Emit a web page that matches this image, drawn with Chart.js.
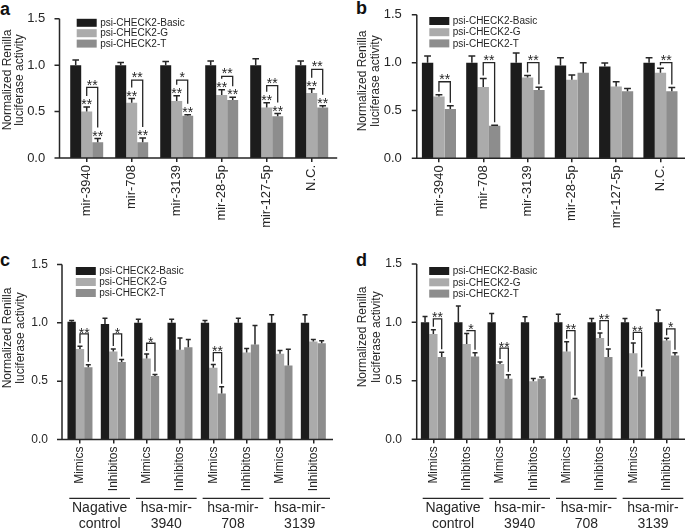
<!DOCTYPE html>
<html>
<head>
<meta charset="utf-8">
<script src="https://cdn.jsdelivr.net/npm/chart.js@4.4.1/dist/chart.umd.min.js"></script>
<style>
  body { margin: 0; background: #fff; width: 685px; height: 530px; position: relative; overflow: hidden;
         font-family: "Liberation Sans", Arial, sans-serif; }
  .panel { position: absolute; }
  .tag { position: absolute; font-weight: bold; font-size: 18px; line-height: 18px; color: #111; }
</style>
</head>
<body>
<div class="tag" style="left:0px;top:0px">a</div>
<div class="tag" style="left:356px;top:-1px">b</div>
<div class="tag" style="left:0px;top:251px">c</div>
<div class="tag" style="left:356px;top:251px">d</div>

<div class="panel" style="left:0px;top:0px;width:340px;height:250px"><canvas id="chartA"></canvas></div>
<div class="panel" style="left:340px;top:0px;width:345px;height:250px"><canvas id="chartB"></canvas></div>
<div class="panel" style="left:0px;top:250px;width:340px;height:280px"><canvas id="chartC"></canvas></div>
<div class="panel" style="left:340px;top:250px;width:345px;height:280px"><canvas id="chartD"></canvas></div>

<script>
// ---- data ----
const seriesNames = ["psi-CHECK2-Basic", "psi-CHECK2-G", "psi-CHECK2-T"];
const seriesColors = ["#1c1c1c", "#ababab", "#8d8d8d"];

// panel a
const aLabels = ["mir-3940", "mir-708", "mir-3139", "mir-28-5p", "mir-127-5p", "N.C."];
const aBasic = [1.0, 1.0, 1.0, 1.0, 1.0, 1.0];
const aBasicErr = [0.055, 0.03, 0.04, 0.045, 0.07, 0.045];
const aG = [0.50, 0.595, 0.615, 0.68, 0.545, 0.70];
const aGErr = [0.05, 0.045, 0.055, 0.055, 0.05, 0.045];
const aT = [0.17, 0.17, 0.455, 0.625, 0.45, 0.545];
const aTErr = [0.04, 0.045, 0.012, 0.03, 0.03, 0.018];
const aGStars = ["**", "**", "**", "**", "**", "**"];
const aTStars = ["**", "**", "**", "**", "**", "**"];
const aBrackets = [[0.76, "**"], [0.84, "**"], [0.84, "*"], [0.88, "**"], [0.78, "**"], [0.955, "**"]];

// panel b
const bLabels = ["mir-3940", "mir-708", "mir-3139", "mir-28-5p", "mir-127-5p", "N.C."];
const bBasic = [1.0, 1.0, 1.0, 0.97, 0.96, 1.0];
const bBasicErr = [0.07, 0.07, 0.1, 0.08, 0.035, 0.05];
const bG = [0.645, 0.745, 0.845, 0.82, 0.75, 0.895];
const bGErr = [0.02, 0.09, 0.02, 0.05, 0.05, 0.045];
const bT = [0.515, 0.34, 0.715, 0.895, 0.70, 0.70];
const bTErr = [0.035, 0.006, 0.027, 0.105, 0.03, 0.04];
const bBrackets = [[0.80, "**"], [1.0, "**"], [1.0, "**"], null, null, [1.0, "**"]];

// panel c
const cLabels = ["Mimics", "Inhibitos", "Mimics", "Inhibitos", "Mimics", "Inhibitos", "Mimics", "Inhibitos"];
const cGroups = [["Nagative", "control"], ["hsa-mir-", "3940"], ["hsa-mir-", "708"], ["hsa-mir-", "3139"]];
const cBasic = [1.01, 0.99, 1.0, 1.0, 1.0, 1.0, 1.0, 1.0];
const cBasicErr = [0.01, 0.05, 0.03, 0.03, 0.02, 0.04, 0.07, 0.07];
const cG = [0.775, 0.755, 0.695, 0.77, 0.615, 0.745, 0.735, 0.84];
const cGErr = [0.025, 0.02, 0.038, 0.1, 0.027, 0.036, 0.028, 0.018];
const cT = [0.62, 0.665, 0.545, 0.79, 0.395, 0.815, 0.635, 0.825];
const cTErr = [0.02, 0.02, 0.012, 0.067, 0.057, 0.163, 0.138, 0.022];
const cBrackets = [[0.905, "**"], [0.905, "*"], [0.825, "*"], null, [0.745, "**"], null, null, null];

// panel d
const dLabels = ["Mimics", "Inhibitos", "Mimics", "Inhibitos", "Mimics", "Inhibitos", "Mimics", "Inhibitos"];
const dGroups = [["Nagative", "control"], ["hsa-mir-", "3940"], ["hsa-mir-", "708"], ["hsa-mir-", "3139"]];
const dBasic = [1.0, 1.0, 1.0, 1.0, 1.0, 1.0, 1.0, 1.0];
const dBasicErr = [0.05, 0.14, 0.075, 0.048, 0.07, 0.032, 0.032, 0.105];
const dG = [0.90, 0.815, 0.645, 0.497, 0.75, 0.866, 0.735, 0.845];
const dGErr = [0.037, 0.09, 0.015, 0.022, 0.085, 0.043, 0.088, 0.02];
const dT = [0.703, 0.708, 0.518, 0.518, 0.343, 0.703, 0.538, 0.717];
const dTErr = [0.042, 0.032, 0.035, 0.014, 0.006, 0.07, 0.051, 0.023];
const dBrackets = [[1.03, "**"], [0.93, "*"], [0.78, "**"], null, [0.93, "**"], [1.015, "**"], [0.915, "**"], [0.945, "*"]];

const yTitle = ["Normalized Renilla", "luciferase activity"];
const FONT = '"Liberation Sans", Arial, sans-serif';
const INK = "#262626";

Chart.defaults.font.family = FONT;
Chart.defaults.color = INK;

function drawStars(ctx, txt, x, centerY) {
  ctx.font = "14px " + FONT;
  ctx.textAlign = "center";
  ctx.textBaseline = "alphabetic";
  ctx.fillText(txt, x, centerY + 0.58 * 14);
}

// error bars, brackets, axes, legend, titles
const decor = {
  id: "decor",
  afterDatasetsDraw(chart, args, o) {
    const ctx = chart.ctx;
    const { left, right } = chart.chartArea;
    const xs = chart.scales.x, ys = chart.scales.y;
    const sets = chart.data.datasets;
    ctx.save();
    ctx.strokeStyle = INK;
    ctx.fillStyle = INK;
    ctx.lineWidth = 1.5;

    const errTop = (i, j) => ys.getPixelForValue(sets[i].data[j] + sets[i].errors[j]);

    sets.forEach((ds, i) => {
      chart.getDatasetMeta(i).data.forEach((bar, j) => {
        const yt = errTop(i, j);
        const cap = bar.width * 0.3;
        ctx.beginPath();
        ctx.moveTo(bar.x, bar.y);
        ctx.lineTo(bar.x, yt);
        ctx.moveTo(bar.x - cap, yt);
        ctx.lineTo(bar.x + cap, yt);
        ctx.stroke();
        if (ds.stars && ds.stars[j]) drawStars(ctx, ds.stars[j], bar.x, yt - o.starLift);
      });
    });

    // G vs T brackets
    const gm = chart.getDatasetMeta(1).data, tm = chart.getDatasetMeta(2).data;
    ctx.lineWidth = 1.3;
    o.brackets.forEach((b, j) => {
      if (!b) return;
      const yb = ys.getPixelForValue(b[0]);
      const yl = errTop(1, j) - (sets[1].stars && sets[1].stars[j] ? 11 : 3);
      const yr = errTop(2, j) - (sets[2].stars && sets[2].stars[j] ? 11 : 3);
      ctx.beginPath();
      ctx.moveTo(gm[j].x, yl);
      ctx.lineTo(gm[j].x, yb);
      ctx.lineTo(tm[j].x, yb);
      ctx.lineTo(tm[j].x, yr);
      ctx.stroke();
      drawStars(ctx, b[1], (gm[j].x + tm[j].x) / 2, yb - o.starLift);
    });

    // axes
    const x0 = left - o.gap;
    const y0 = ys.getPixelForValue(0);
    ctx.lineWidth = 1.5;
    ctx.beginPath();
    ctx.moveTo(x0, ys.getPixelForValue(ys.max));
    ctx.lineTo(x0, y0);
    ctx.lineTo(right + o.ext, y0);
    ys.ticks.forEach(tk => {
      const py = ys.getPixelForValue(tk.value);
      ctx.moveTo(x0 - 5, py);
      ctx.lineTo(x0, py);
    });
    ctx.stroke();

    // legend
    ctx.font = "10px " + FONT;
    ctx.textAlign = "left";
    ctx.textBaseline = "middle";
    sets.forEach((ds, i) => {
      const ly = o.legendY + i * o.legendStep;
      ctx.fillStyle = ds.backgroundColor;
      ctx.fillRect(left + 12.5, ly - 4, 20, 8);
      ctx.fillStyle = INK;
      ctx.fillText(ds.label, left + 36, ly + 0.5);
    });

    // y title
    ctx.font = "12px " + FONT;
    ctx.textAlign = "center";
    yTitle.forEach((line, k) => {
      ctx.save();
      ctx.translate(o.titleX[k], o.titleY);
      ctx.rotate(-Math.PI / 2);
      ctx.fillText(line, 0, 0);
      ctx.restore();
    });

    // group labels under the categories
    if (o.groups) {
      const half = (xs.getPixelForValue(1) - xs.getPixelForValue(0)) / 2;
      ctx.font = "14px " + FONT;
      ctx.lineWidth = 1.2;
      o.groups.forEach((g, k) => {
        const xa = xs.getPixelForValue(2 * k) - half + 3 + o.groupShift;
        const xb = xs.getPixelForValue(2 * k + 1) + half - 3 + o.groupShift;
        ctx.beginPath();
        ctx.moveTo(xa, o.groupLineY);
        ctx.lineTo(xb, o.groupLineY);
        ctx.stroke();
        g.forEach((line, n) => ctx.fillText(line, (xa + xb) / 2, o.groupTextY + n * 15.5));
      });
    }
    ctx.restore();
  }
};

function makePanel(id, labels, vals, errs, stars, brackets, lay) {
  const datasets = seriesNames.map((name, i) => ({
    label: name,
    data: vals[i],
    errors: errs[i],
    stars: stars ? stars[i] : null,
    backgroundColor: seriesColors[i],
    borderWidth: 0,
    categoryPercentage: lay.catPct,
    barPercentage: 1.0
  }));
  new Chart(document.getElementById(id), {
    type: "bar",
    data: { labels: labels, datasets: datasets },
    plugins: [decor],
    options: {
      responsive: true,
      maintainAspectRatio: false,
      animation: false,
      layout: { padding: { left: 0, top: lay.top, right: lay.right, bottom: 0 } },
      plugins: {
        legend: { display: false },
        tooltip: { enabled: false },
        decor: {
          gap: lay.gap, ext: lay.ext, starLift: lay.starLift, brackets: brackets,
          legendY: lay.legendY, legendStep: lay.legendStep,
          titleX: lay.titleX, titleY: lay.titleY,
          groups: lay.groups || null, groupShift: 3, groupLineY: 248.3, groupTextY: 258.5
        }
      },
      scales: {
        x: {
          offset: true,
          afterFit: s => { s.height = lay.xHeight; },
          border: { display: false },
          grid: { display: true, drawOnChartArea: false, drawTicks: true, tickLength: 4,
                  offset: false, color: INK, lineWidth: 1.5 },
          ticks: { autoSkip: false, minRotation: 90, maxRotation: 90, padding: 3,
                   font: { size: lay.labelFont } }
        },
        y: {
          min: 0,
          max: 1.5,
          afterFit: s => { s.width = lay.left; },
          border: { display: false },
          grid: { display: false },
          ticks: { stepSize: 0.5, padding: lay.tickPad, font: { size: lay.tickFont },
                   callback: v => v.toFixed(1) }
        }
      }
    }
  });
}

makePanel("chartA", aLabels, [aBasic, aG, aT], [aBasicErr, aGErr, aTErr], [null, aGStars, aTStars], aBrackets,
  { left: 64.2, top: 18.5, right: 5.8, xHeight: 92, gap: 4.7, ext: 3, tickPad: 11, catPct: 0.733,
    starLift: 6, legendY: 22.8, legendStep: 10.4, titleX: [7.5, 20], titleY: 80, labelFont: 13, tickFont: 13 });

makePanel("chartB", bLabels, [bBasic, bG, bT], [bBasicErr, bGErr, bTErr], null, bBrackets,
  { left: 76.8, top: 12, right: 2.4, xHeight: 91.7, gap: 0, ext: 5, tickPad: 7, catPct: 0.77,
    starLift: 6, legendY: 21, legendStep: 11.2, titleX: [22.5, 35.8], titleY: 81, labelFont: 13, tickFont: 13 });

makePanel("chartC", cLabels, [cBasic, cG, cT], [cBasicErr, cGErr, cTErr], null, cBrackets,
  { left: 63.3, top: 11.3, right: 10, xHeight: 90.5, gap: 1.3, ext: 3, tickPad: 7.3, catPct: 0.75,
    starLift: 4.5, legendY: 21, legendStep: 11, titleX: [8, 21], titleY: 88, labelFont: 12, tickFont: 12,
    groups: cGroups });

makePanel("chartD", dLabels, [dBasic, dG, dT], [dBasicErr, dGErr, dTErr], null, dBrackets,
  { left: 76.7, top: 11.3, right: 1.7, xHeight: 90.7, gap: 0, ext: 5, tickPad: 6.7, catPct: 0.75,
    starLift: 4.5, legendY: 21, legendStep: 11.3, titleX: [22.5, 36.5], titleY: 87, labelFont: 12, tickFont: 12,
    groups: dGroups });
</script>
</body>
</html>
